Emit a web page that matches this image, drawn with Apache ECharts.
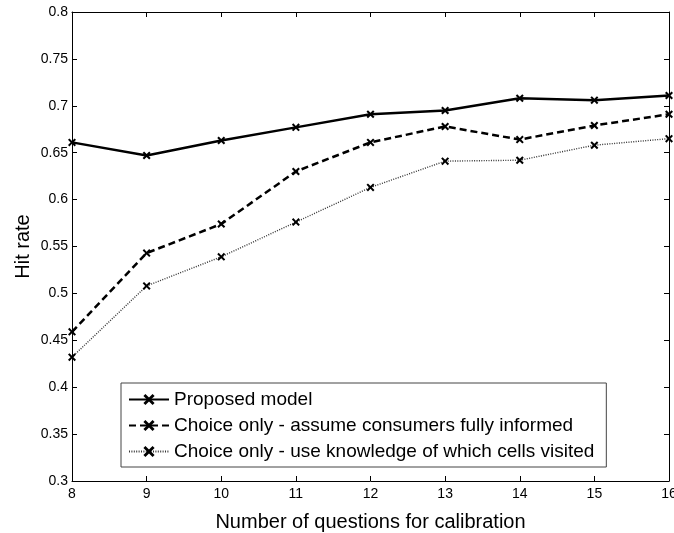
<!DOCTYPE html>
<html>
<head>
<meta charset="utf-8">
<script src="https://cdn.jsdelivr.net/npm/echarts@6/dist/echarts.min.js"></script>
<style>html,body{margin:0;padding:0;background:#fff}#c{width:674px;height:533px}</style>
</head>
<body>
<div id="c"></div>
<script>
var questions = [8, 9, 10, 11, 12, 13, 14, 15, 16];
var proposed = [0.661, 0.647, 0.663, 0.677, 0.691, 0.695, 0.708, 0.706, 0.711];
var choiceInformed = [0.459, 0.543, 0.574, 0.630, 0.661, 0.678, 0.664, 0.679, 0.691];
var choiceVisited = [0.432, 0.508, 0.539, 0.576, 0.613, 0.641, 0.642, 0.658, 0.665];
var seriesNames = ['Proposed model', 'Choice only - assume consumers fully informed', 'Choice only - use knowledge of which cells visited'];
var xTitle = 'Number of questions for calibration';
var yTitle = 'Hit rate';

function pairs(v) { return questions.map(function (q, i) { return [q, v[i]]; }); }
var X = 'path://M0,1.8 L1.8,0 L5,3.2 L8.2,0 L10,1.8 L6.8,5 L10,8.2 L8.2,10 L5,6.8 L1.8,10 L0,8.2 L3.2,5 Z';
var font = 'Liberation Sans, Arial, Helvetica, sans-serif';

var chart = echarts.init(document.getElementById('c'), null, {renderer: 'canvas'});
var axisCommon = {
  axisLine: {show: true, onZero: false, lineStyle: {color: '#000', width: 1}},
  axisTick: {show: true, inside: true, length: 5, lineStyle: {color: '#000'}},
  splitLine: {show: false}
};
chart.setOption({
  animation: false,
  backgroundColor: '#fff',
  textStyle: {fontFamily: font},
  grid: {left: 72, right: 5, top: 12, bottom: 52, containLabel: false, outerBoundsMode: 'none'},
  xAxis: [
    Object.assign({
      type: 'value', min: 8, max: 16, interval: 1, position: 'bottom',
      name: xTitle, nameLocation: 'middle', nameGap: 31,
      nameTextStyle: {fontSize: 20, color: '#000', fontFamily: font},
      axisLabel: {fontSize: 14, color: '#000', margin: 6, fontFamily: font}
    }, axisCommon),
    Object.assign({
      type: 'value', min: 8, max: 16, interval: 1, position: 'top',
      axisLabel: {show: false}
    }, axisCommon)
  ],
  yAxis: [
    Object.assign({
      type: 'value', min: 0.3, max: 0.8, interval: 0.05, position: 'left',
      name: yTitle, nameLocation: 'middle', nameGap: 39, nameRotate: 90, nameMoveOverlap: false,
      nameTextStyle: {fontSize: 20, color: '#000', fontFamily: font},
      axisLabel: {fontSize: 14, color: '#000', margin: 4, fontFamily: font,
        formatter: function (v) { return String(parseFloat(v.toFixed(2))); }}
    }, axisCommon),
    Object.assign({
      type: 'value', min: 0.3, max: 0.8, interval: 0.05, position: 'right',
      axisLabel: {show: false}
    }, axisCommon)
  ],
  legend: {
    orient: 'vertical', left: 121, top: 383,
    padding: [7, 12, 6, 7],
    itemWidth: 40, itemHeight: 14, itemGap: 7,
    borderColor: '#444', borderWidth: 1, backgroundColor: '#fff',
    textStyle: {fontSize: 19, color: '#000', fontFamily: font},
    data: seriesNames
  },
  series: [
    {name: seriesNames[0], type: 'line', data: pairs(proposed), symbol: X, symbolSize: 8,
      lineStyle: {color: '#000', width: 2.5, type: 'solid'}, itemStyle: {color: '#000'}},
    {name: seriesNames[1], type: 'line', data: pairs(choiceInformed), symbol: X, symbolSize: 8,
      lineStyle: {color: '#000', width: 2.5, type: [7, 4]}, itemStyle: {color: '#000'}},
    {name: seriesNames[2], type: 'line', data: pairs(choiceVisited), symbol: X, symbolSize: 8,
      lineStyle: {color: '#333', width: 1.4, type: [1, 1.4]}, itemStyle: {color: '#000'}}
  ]
});
</script>
</body>
</html>
